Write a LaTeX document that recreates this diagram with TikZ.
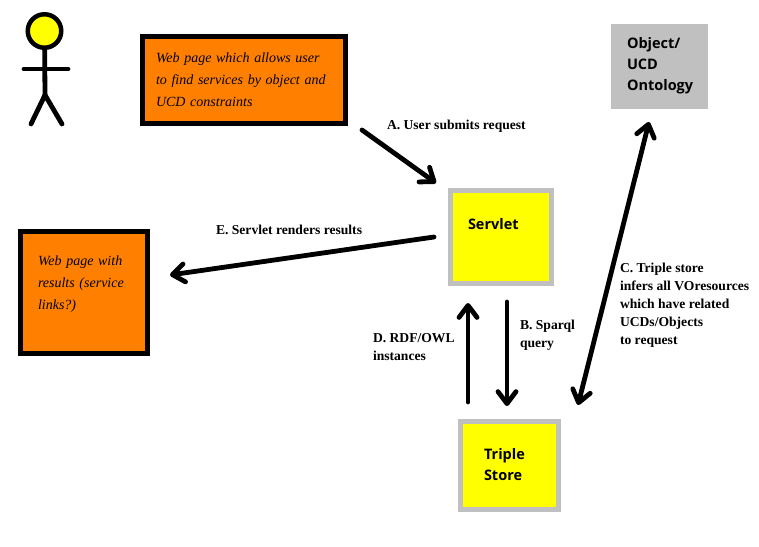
\documentclass[tikz,border=0pt]{standalone}
\usepackage{fontspec}
\setmainfont{Liberation Serif}
\setsansfont{Open Sans}
\usetikzlibrary{arrows.meta, positioning}

\begin{document}
\begin{tikzpicture}[x=1pt,y=-1pt,>={Straight Barb[round,length=12pt,width=18pt]},line width=4.8pt,line cap=round]
    % Define the style for the blocks
    \tikzstyle{pagebox} = [rectangle, draw=black, line width=5pt, line cap=butt, fill=pageorange, align=left, font=\fontsize{14}{22}\selectfont\itshape]
    \tikzstyle{procbox} = [rectangle, draw=boxgray, line width=5pt, line cap=butt, fill=boxyellow, align=left, font=\fontsize{14.5}{21}\selectfont\sffamily\bfseries]
    \tikzstyle{steplabel} = [anchor=west, align=left, inner sep=0pt, outer sep=0pt, font=\fontsize{13.6}{18}\selectfont\bfseries]
    \definecolor{pageorange}{HTML}{FF8000}
    \definecolor{boxgray}{HTML}{C0C0C0}
    \definecolor{boxyellow}{HTML}{FFFF00}

    \useasboundingbox (0,0) rectangle (759,546);

    % Stick figure
    \node [circle, draw, fill=boxyellow, line width=4.5pt, minimum size=33.5pt, inner sep=0pt] (head) at (44.5,31) {};
    \coordinate (hip) at (45,95);
    \coordinate (handleft) at (24,69);
    \coordinate (handright) at (68,69);
    \coordinate (footleft) at (31,124);
    \coordinate (footright) at (62,124);
    \draw (head) -- (hip);
    \draw (handleft) -- (handright);
    \draw (footleft) -- (hip) -- (footright);

    % Nodes position
    \node [pagebox, minimum width=203pt, minimum height=87pt, text width=176pt, inner xsep=13.5pt] (searchpage) at (244,80) {Web page which allows user\\to find services by object and\\UCD constraints};
    \node [pagebox, minimum width=127pt, minimum height=122pt, text width=92pt, inner xsep=17.5pt, text depth=64pt] (resultpage) at (84,292.5) {Web page with\\results (service\\links?)};
    \node [procbox, minimum width=101pt, minimum height=93pt, text width=66pt, inner xsep=17.5pt, text depth=26pt] (servlet) at (501,237) {Servlet};
    \node [procbox, minimum width=98pt, minimum height=88pt, text width=51pt, inner xsep=23.5pt, text depth=24pt] (triplestore) at (509.5,465.5) {Triple\\Store};
    \node [rectangle, fill=boxgray, minimum width=97pt, minimum height=85pt, text width=65pt, inner xsep=16pt, align=left, font=\fontsize{14.5}{21}\selectfont\sffamily\bfseries] (ontology) at (659.5,66) {Object/\\UCD\\Ontology};

    % Free ends of the arrows
    \coordinate (asrc) at (362,130);
    \coordinate (adst) at (436,183);
    \coordinate (esrc) at (434,237);
    \coordinate (edst) at (170,275);
    \coordinate (dsrc) at (468,402);
    \coordinate (ddst) at (468,303);
    \coordinate (bsrc) at (507,302);
    \coordinate (bdst) at (507,406);
    \coordinate (ctop) at (649,122);
    \coordinate (cbot) at (578,405);

    % Arrows
    \draw[->] (asrc) -- (adst);
    \draw[->] (esrc) -- (edst);
    \draw[->] (dsrc) -- (ddst);
    \draw[->] (bsrc) -- (bdst);
    \draw[<->] (ctop) -- (cbot);

    % Labels for the steps
    \node [steplabel] (alabel) at (387,126) {A. User submits request};
    \node [steplabel] (elabel) at (216,230) {E. Servlet renders results};
    \node [steplabel] (dlabel) at (373,347.5) {D. RDF/OWL\\instances};
    \node [steplabel] (blabel) at (520,335) {B. Sparql\\query};
    \node [steplabel] (clabel) at (620,305) {C. Triple store\\infers all VOresources\\which have related\\UCDs/Objects\\to request};
\end{tikzpicture}
\end{document}
